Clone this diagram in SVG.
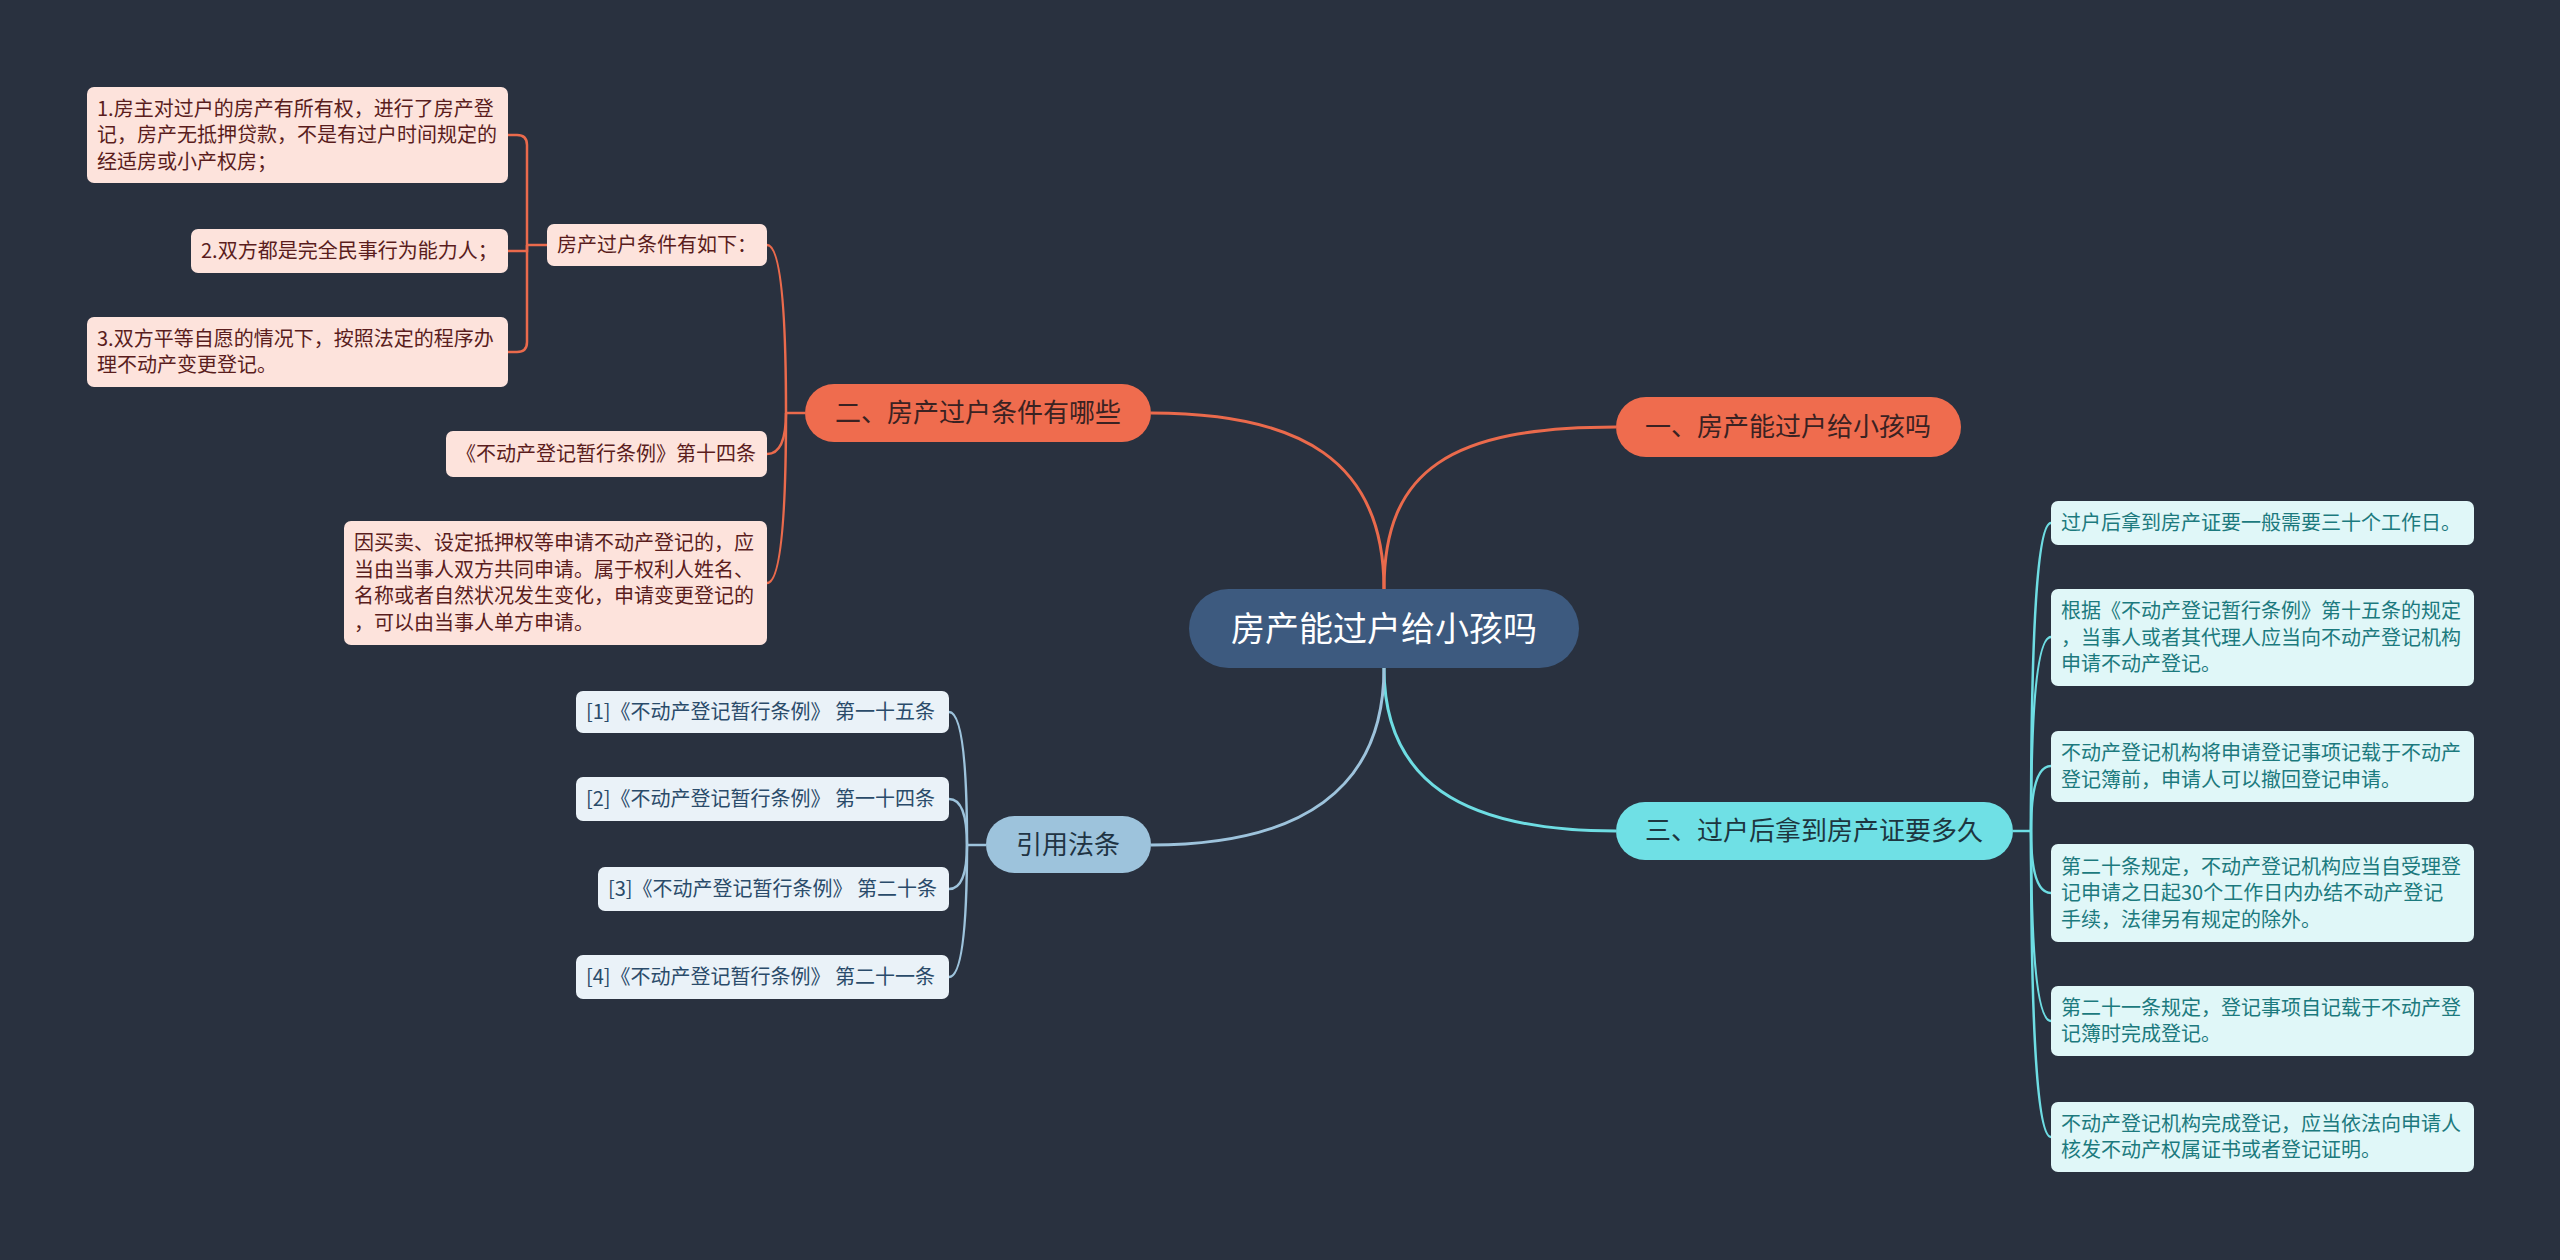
<svg xmlns="http://www.w3.org/2000/svg" width="2560" height="1260" viewBox="0 0 2560 1260">
<style>
text{font-family:"Noto Sans CJK SC","Microsoft YaHei",sans-serif}
.main{font-size:26px;text-anchor:middle}
.leaf{font-size:20px}
.pk rect{fill:#fde3dc}
.pk text{fill:#5a1d1d}
.cy rect{fill:#e0f7f8}
.cy text{fill:#1c7a7e}
.bl rect{fill:#eaf2f8}
.bl text{fill:#2a4b6a}
.c-or{fill:none;stroke:#ea6a4c;stroke-width:3}
.c-or2{fill:none;stroke:#ea6a4c;stroke-width:2.5}
.c-cy{fill:none;stroke:#6edde3;stroke-width:3}
.c-cy2{fill:none;stroke:#6edde3;stroke-width:2.5}
.c-bl{fill:none;stroke:#9dc3dc;stroke-width:3}
.c-bl2{fill:none;stroke:#9dc3dc;stroke-width:2.5}
</style>
<rect x="0" y="0" width="2560" height="1260" fill="#29313f"/>
<g id="connectors">
<path class="c-or" d="M1384,589 C1384,470 1450,427 1616,427"/>
<path class="c-or" d="M1384,589 C1384,460 1300,413 1151,413"/>
<path class="c-cy" d="M1384,668 C1384,780 1460,831 1616,831"/>
<path class="c-bl" d="M1384,668 C1384,790 1300,845 1151,845"/>
<path class="c-or2" d="M805,413 L786,413"/>
<path class="c-or2" d="M786,413 Q786,245 767,245"/>
<path class="c-or2" d="M786,413 Q786,454 767,454"/>
<path class="c-or2" d="M786,413 Q786,583 767,583"/>
<path class="c-or2" d="M547,245 L527,245"/>
<path class="c-or2" d="M527,245 L527,145 Q527,135 517,135 L508,135"/>
<path class="c-or2" d="M527,245 L527,251 L508,251"/>
<path class="c-or2" d="M527,245 L527,342 Q527,352 517,352 L508,352"/>
<path class="c-cy2" d="M2013,831 L2031,831"/>
<path class="c-cy2" d="M2031,831 Q2031,523 2051,523"/>
<path class="c-cy2" d="M2031,831 Q2031,637 2051,637"/>
<path class="c-cy2" d="M2031,831 Q2031,766 2051,766"/>
<path class="c-cy2" d="M2031,831 Q2031,893 2051,893"/>
<path class="c-cy2" d="M2031,831 Q2031,1021 2051,1021"/>
<path class="c-cy2" d="M2031,831 Q2031,1137 2051,1137"/>
<path class="c-bl2" d="M986,845 L967,845"/>
<path class="c-bl2" d="M967,845 Q967,712 949,712"/>
<path class="c-bl2" d="M967,845 Q967,799 949,799"/>
<path class="c-bl2" d="M967,845 Q967,889 949,889"/>
<path class="c-bl2" d="M967,845 Q967,977 949,977"/>
</g>
<g id="center">
<rect x="1189" y="589" width="390" height="79" rx="39.5" fill="#3d5a7f"/>
<text x="1384" y="641" font-size="34" text-anchor="middle" fill="#ffffff">房产能过户给小孩吗</text>
</g>
<g id="n1">
<rect x="1616" y="397" width="345" height="60" rx="30" fill="#ef6c4e"/>
<text class="main" x="1788" y="436" fill="#3a2222">一、房产能过户给小孩吗</text>
</g>
<g id="n2">
<rect x="805" y="384" width="346" height="58" rx="29" fill="#ef6c4e"/>
<text class="main" x="978" y="422" fill="#3a2222">二、房产过户条件有哪些</text>
</g>
<g id="n3">
<rect x="1616" y="802" width="397" height="58" rx="29" fill="#6fe0e5"/>
<text class="main" x="1814" y="840" fill="#1d3640">三、过户后拿到房产证要多久</text>
</g>
<g id="n4">
<rect x="986" y="816" width="165" height="57" rx="28.5" fill="#9dc3dc"/>
<text class="main" x="1068" y="854" fill="#1f3444">引用法条</text>
</g>
<g id="p0" class="pk">
<rect x="547" y="224" width="220" height="42" rx="7"/>
<text class="leaf" x="557" y="252">房产过户条件有如下：</text>
</g>
<g id="p1" class="pk">
<rect x="87" y="87" width="421" height="96" rx="7"/>
<text class="leaf" x="97" y="115.5">1.房主对过户的房产有所有权，进行了房产登</text>
<text class="leaf" x="97" y="142">记，房产无抵押贷款，不是有过户时间规定的</text>
<text class="leaf" x="97" y="168.5">经适房或小产权房；</text>
</g>
<g id="p2" class="pk">
<rect x="191" y="229" width="317" height="44" rx="7"/>
<text class="leaf" x="201" y="258">2.双方都是完全民事行为能力人；</text>
</g>
<g id="p3" class="pk">
<rect x="87" y="317" width="421" height="70" rx="7"/>
<text class="leaf" x="97" y="345.75">3.双方平等自愿的情况下，按照法定的程序办</text>
<text class="leaf" x="97" y="372.25">理不动产变更登记。</text>
</g>
<g id="p4" class="pk">
<rect x="446" y="431" width="321" height="46" rx="7"/>
<text class="leaf" x="456" y="461">《不动产登记暂行条例》第十四条</text>
</g>
<g id="p5" class="pk">
<rect x="344" y="521" width="423" height="124" rx="7"/>
<text class="leaf" x="354" y="550.25">因买卖、设定抵押权等申请不动产登记的，应</text>
<text class="leaf" x="354" y="576.75">当由当事人双方共同申请。属于权利人姓名、</text>
<text class="leaf" x="354" y="603.25">名称或者自然状况发生变化，申请变更登记的</text>
<text class="leaf" x="354" y="629.75">，可以由当事人单方申请。</text>
</g>
<g id="c1" class="cy">
<rect x="2051" y="501" width="423" height="44" rx="7"/>
<text class="leaf" x="2061" y="530">过户后拿到房产证要一般需要三十个工作日。</text>
</g>
<g id="c2" class="cy">
<rect x="2051" y="589" width="423" height="97" rx="7"/>
<text class="leaf" x="2061" y="618">根据《不动产登记暂行条例》第十五条的规定</text>
<text class="leaf" x="2061" y="644.5">，当事人或者其代理人应当向不动产登记机构</text>
<text class="leaf" x="2061" y="671">申请不动产登记。</text>
</g>
<g id="c3" class="cy">
<rect x="2051" y="731" width="423" height="71" rx="7"/>
<text class="leaf" x="2061" y="760.25">不动产登记机构将申请登记事项记载于不动产</text>
<text class="leaf" x="2061" y="786.75">登记簿前，申请人可以撤回登记申请。</text>
</g>
<g id="c4" class="cy">
<rect x="2051" y="844" width="423" height="98" rx="7"/>
<text class="leaf" x="2061" y="873.5">第二十条规定，不动产登记机构应当自受理登</text>
<text class="leaf" x="2061" y="900">记申请之日起30个工作日内办结不动产登记</text>
<text class="leaf" x="2061" y="926.5">手续，法律另有规定的除外。</text>
</g>
<g id="c5" class="cy">
<rect x="2051" y="986" width="423" height="70" rx="7"/>
<text class="leaf" x="2061" y="1014.75">第二十一条规定，登记事项自记载于不动产登</text>
<text class="leaf" x="2061" y="1041.25">记簿时完成登记。</text>
</g>
<g id="c6" class="cy">
<rect x="2051" y="1102" width="423" height="70" rx="7"/>
<text class="leaf" x="2061" y="1130.75">不动产登记机构完成登记，应当依法向申请人</text>
<text class="leaf" x="2061" y="1157.25">核发不动产权属证书或者登记证明。</text>
</g>
<g id="r1" class="bl">
<rect x="576" y="691" width="373" height="42" rx="7"/>
<text class="leaf" x="586" y="719">[1]《不动产登记暂行条例》 第一十五条</text>
</g>
<g id="r2" class="bl">
<rect x="576" y="777" width="373" height="44" rx="7"/>
<text class="leaf" x="586" y="806">[2]《不动产登记暂行条例》 第一十四条</text>
</g>
<g id="r3" class="bl">
<rect x="598" y="867" width="351" height="44" rx="7"/>
<text class="leaf" x="608" y="896">[3]《不动产登记暂行条例》 第二十条</text>
</g>
<g id="r4" class="bl">
<rect x="576" y="955" width="373" height="44" rx="7"/>
<text class="leaf" x="586" y="984">[4]《不动产登记暂行条例》 第二十一条</text>
</g>
</svg>
